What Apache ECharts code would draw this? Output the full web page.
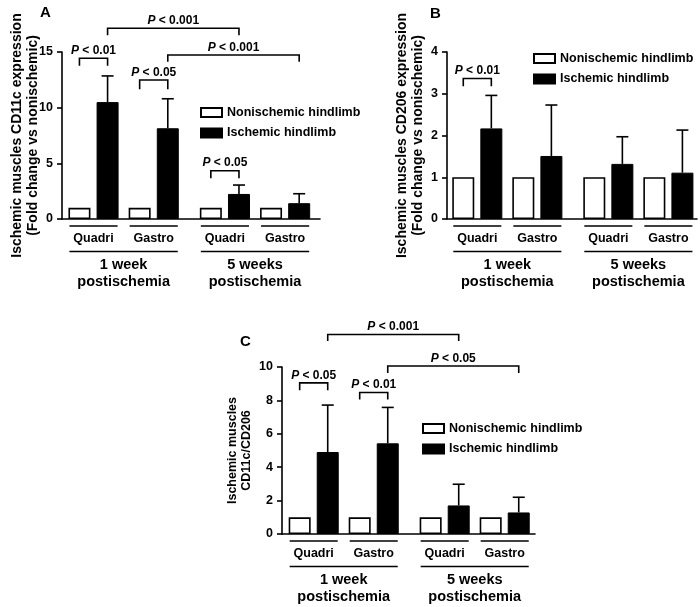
<!DOCTYPE html>
<html>
<head>
<meta charset="utf-8">
<script src="https://cdn.jsdelivr.net/npm/echarts@6/dist/echarts.min.js"></script>
<style>html,body{margin:0;padding:0;background:#fff}#c{width:700px;height:607px}</style>
</head>
<body>
<div id="c"></div>
<script>
// ---------- data ----------
const groupNames = ['Quadri', 'Gastro', 'Quadri', 'Gastro'];
const periodNames = ['1 week\npostischemia', '5 weeks\npostischemia'];
const seriesNames = ['Nonischemic hindlimb', 'Ischemic hindlimb'];
// x positions (axis units) of white / black bars
const xWhite = [0, 2.14, 4.67, 6.81];
const xBlack = [1, 3.14, 5.67, 7.81];

const nonIschA = [1, 1, 1, 1];
const ischA = [10.5, 8.15, 2.25, 1.42];
const errA = [2.35, 2.65, 0.8, 0.85];

const nonIschB = [1, 1, 1, 1];
const ischB = [2.17, 1.51, 1.32, 1.11];
const errB = [0.79, 1.22, 0.65, 1.02];

const nonIschC = [1, 1, 1, 1];
const ischC = [4.91, 5.43, 1.71, 1.29];
const errC = [2.81, 2.15, 1.27, 0.91];

// significance brackets: [xStart, xEnd, yLine, yLegEnd, label]
const bracketsA = [
  [0, 1, 14.44, 13.77, 'P < 0.01'],
  [2.14, 3.14, 12.49, 11.65, 'P < 0.05'],
  [4.67, 5.67, 4.34, 3.66, 'P < 0.05'],
  [1, 5.67, 17.13, 16.5, 'P < 0.001'],
  [3.14, 7.81, 14.73, 14.13, 'P < 0.001']
];
const bracketsB = [
  [0, 1, 3.365, 3.18, 'P < 0.01']
];
const bracketsC = [
  [0, 1, 9.05, 8.61, 'P < 0.05'],
  [2.14, 3.14, 8.47, 8.05, 'P < 0.01'],
  [1, 5.67, 11.95, 11.55, 'P < 0.001'],
  [3.14, 7.81, 10.06, 9.64, 'P < 0.05']
];

const yNameA = 'Ischemic muscles CD11c expression\n(Fold change vs nonischemic)';
const yNameB = 'Ischemic muscles CD206 expression\n(Fold change vs nonischemic)';
const yNameC = 'Ischemic muscles\nCD11c/CD206';

// ---------- chart ----------
const FF = '"Liberation Sans", Arial, Helvetica, sans-serif';
const BL = '#000';

function pairs(xs, ys) { return xs.map((x, i) => [x, ys[i]]); }

function errRender(errs) {
  return function (params, api) {
    const x = api.value(0), y = api.value(1), e = errs[params.dataIndex];
    const p0 = api.coord([x, y]);
    const p1 = api.coord([x, y + e]);
    return {
      type: 'group',
      children: [
        { type: 'line', shape: { x1: p0[0], y1: p0[1], x2: p1[0], y2: p1[1] }, style: { stroke: BL, lineWidth: 1.6 } },
        { type: 'line', shape: { x1: p1[0] - 6, y1: p1[1], x2: p1[0] + 6, y2: p1[1] }, style: { stroke: BL, lineWidth: 1.6 } }
      ]
    };
  };
}

function bracketRender(arr) {
  return function (params, api) {
    const b = arr[params.dataIndex];
    const a1 = api.coord([b[0], b[2]]);
    const a2 = api.coord([b[1], b[2]]);
    const l1 = api.coord([b[0], b[3]]);
    const label = b[4].replace(/^P/, '{i|P}');
    return {
      type: 'group',
      children: [
        { type: 'polyline', shape: { points: [[l1[0], l1[1]], [a1[0], a1[1]], [a2[0], a2[1]], [a2[0], l1[1]]] },
          style: { stroke: BL, lineWidth: 1.6, fill: null } },
        { type: 'text', style: {
            text: label, x: (a1[0] + a2[0]) / 2, y: a1[1] - 1.5, align: 'center', verticalAlign: 'bottom',
            fontFamily: FF, fontWeight: 'bold', fontSize: 12, fill: BL,
            rich: { i: { fontStyle: 'italic', fontWeight: 'bold', fontSize: 12, fontFamily: FF, fill: BL } }
          } }
      ]
    };
  };
}

function groupRender(params, api) {
  const i = params.dataIndex;
  const p0 = api.coord([xWhite[i], 0]);
  const p1 = api.coord([xBlack[i], 0]);
  const y0 = p0[1];
  return {
    type: 'group',
    children: [
      { type: 'line', shape: { x1: p0[0] - 10, y1: y0 + 7, x2: p1[0] + 10, y2: y0 + 7 }, style: { stroke: BL, lineWidth: 1.6 } },
      { type: 'text', style: { text: groupNames[i], x: (p0[0] + p1[0]) / 2, y: y0 + 19.5, align: 'center', verticalAlign: 'middle',
          fontFamily: FF, fontWeight: 'bold', fontSize: 12.5, fill: BL } }
    ]
  };
}

function periodRender(params, api) {
  const i = params.dataIndex;
  const p0 = api.coord([xWhite[i * 2], 0]);
  const p1 = api.coord([xBlack[i * 2 + 1], 0]);
  const y0 = p0[1];
  return {
    type: 'group',
    children: [
      { type: 'line', shape: { x1: p0[0] - 10, y1: y0 + 32.5, x2: p1[0] + 10, y2: y0 + 32.5 }, style: { stroke: BL, lineWidth: 1.6 } },
      { type: 'text', style: { text: periodNames[i], x: (p0[0] + p1[0]) / 2, y: y0 + 37.5, align: 'center', verticalAlign: 'top',
          fontFamily: FF, fontWeight: 'bold', fontSize: 14.5, lineHeight: 17, fill: BL } }
    ]
  };
}

function xAxisCfg(gi, min, max) {
  return {
    type: 'value', gridIndex: gi, min: min, max: max,
    axisLine: { show: true, onZero: false, lineStyle: { color: BL, width: 1.6 } },
    axisTick: { show: false }, axisLabel: { show: false }, splitLine: { show: false }
  };
}
function yAxisCfg(gi, max, interval, name, nameSize, nameGap, nameLH) {
  return {
    type: 'value', gridIndex: gi, min: 0, max: max, interval: interval,
    name: name, nameLocation: 'middle', nameGap: nameGap, nameRotate: 90, nameMoveOverlap: false,
    nameTextStyle: { fontFamily: FF, fontWeight: 'bold', fontSize: nameSize, color: BL, lineHeight: nameLH },
    axisLine: { show: true, onZero: false, lineStyle: { color: BL, width: 1.6 } },
    axisTick: { show: true, inside: false, length: 5, lineStyle: { color: BL, width: 1.6 } },
    axisLabel: { fontFamily: FF, fontWeight: 'bold', fontSize: 12.5, color: BL, margin: 9 },
    splitLine: { show: false }
  };
}

function panelSeries(gi, nonIsch, isch, errs, brackets) {
  return [
    { name: seriesNames[0], type: 'bar', xAxisIndex: gi, yAxisIndex: gi, data: pairs(xWhite, nonIsch),
      barWidth: 22, barGap: '-100%', itemStyle: { color: '#fff', borderColor: BL, borderWidth: 1.6 } },
    { name: seriesNames[1], type: 'bar', xAxisIndex: gi, yAxisIndex: gi, data: pairs(xBlack, isch),
      barWidth: 22, barGap: '-100%', itemStyle: { color: BL, borderColor: BL, borderWidth: 1 } },
    { type: 'custom', xAxisIndex: gi, yAxisIndex: gi, clip: false, silent: true, z: 5,
      data: pairs(xBlack, isch), renderItem: errRender(errs) },
    { type: 'custom', xAxisIndex: gi, yAxisIndex: gi, clip: false, silent: true, z: 5,
      data: brackets.map(b => [b[0], b[2]]), renderItem: bracketRender(brackets) },
    { type: 'custom', xAxisIndex: gi, yAxisIndex: gi, clip: false, silent: true, z: 5,
      data: xWhite.map(x => [x, 0]), renderItem: groupRender },
    { type: 'custom', xAxisIndex: gi, yAxisIndex: gi, clip: false, silent: true, z: 5,
      data: [[xWhite[0], 0], [xWhite[2], 0]], renderItem: periodRender }
  ];
}

function legendCfg(left, top) {
  return {
    orient: 'vertical', left: left, top: top, itemWidth: 21, itemHeight: 9, itemGap: 7.5,
    icon: 'rect', data: seriesNames, selectedMode: false,
    textStyle: { fontFamily: FF, fontWeight: 'bold', fontSize: 12.5, color: BL, padding: [0, 0, 0, 0] },
    padding: 0
  };
}

const chart = echarts.init(document.getElementById('c'), null, { renderer: 'canvas' });
chart.setOption({
  animation: false,
  backgroundColor: '#fff',
  title: [
    { text: 'A', left: 35, top: 0, textStyle: { fontFamily: FF, fontWeight: 'bold', fontSize: 15, color: BL } },
    { text: 'B', left: 425, top: 1, textStyle: { fontFamily: FF, fontWeight: 'bold', fontSize: 15, color: BL } },
    { text: 'C', left: 235, top: 329, textStyle: { fontFamily: FF, fontWeight: 'bold', fontSize: 15, color: BL } }
  ],
  legend: [legendCfg(200, 106), legendCfg(533, 52), legendCfg(422, 422)],
  grid: [
    { left: 62, top: 52, width: 258, height: 167, outerBoundsMode: 'none', containLabel: false },
    { left: 447, top: 52, width: 250, height: 167, outerBoundsMode: 'none', containLabel: false },
    { left: 282, top: 367, width: 253, height: 167, outerBoundsMode: 'none', containLabel: false }
  ],
  xAxis: [xAxisCfg(0, -0.62, 8.55), xAxisCfg(1, -0.58, 8.33), xAxisCfg(2, -0.63, 8.39)],
  yAxis: [
    yAxisCfg(0, 15, 5, yNameA, 14, 20.5, 16),
    yAxisCfg(1, 4, 1, yNameB, 14, 20.5, 16),
    yAxisCfg(2, 10, 2, yNameC, 12.5, 28, 14)
  ],
  series: [].concat(
    panelSeries(0, nonIschA, ischA, errA, bracketsA),
    panelSeries(1, nonIschB, ischB, errB, bracketsB),
    panelSeries(2, nonIschC, ischC, errC, bracketsC)
  )
});
</script>
</body>
</html>
